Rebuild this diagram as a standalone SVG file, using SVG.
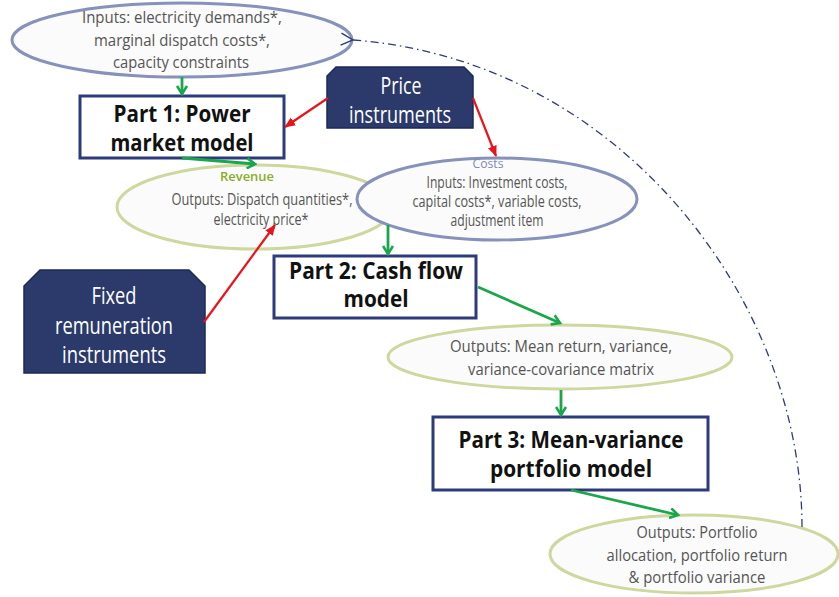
<svg xmlns="http://www.w3.org/2000/svg" width="839" height="597" viewBox="0 0 839 597">
<style>
.ell-b{fill:#fbfbfb;stroke:#8792bb;stroke-width:3}
.ell-g{fill:#fbfbfb;stroke:#cdd89f;stroke-width:3}
.box{fill:#fff;stroke:#2e3b7a;stroke-width:3}
.navy{fill:#2b3a6b;stroke:#1e2a58;stroke-width:1.5}
.t{font-family:"Open Sans","Noto Sans",sans-serif;font-size:17px;fill:#555;text-anchor:middle}
.s{font-size:15.5px}
.h{font-family:"Open Sans","Noto Sans",sans-serif;font-size:24px;font-weight:bold;fill:#111;text-anchor:middle}
.w{font-family:"Open Sans","Noto Sans",sans-serif;font-size:24px;fill:#fff;text-anchor:middle}
.g{stroke:#1aa64a;stroke-width:2.8;fill:none}
.r{stroke:#e8141b;stroke-width:2.2;fill:none}
</style>
<defs>
<marker id="ag" markerUnits="userSpaceOnUse" viewBox="0 0 12 12" refX="10" refY="6" markerWidth="12" markerHeight="12" orient="auto">
<path d="M2,1 L10,6 L2,11" fill="none" stroke="#1aa64a" stroke-width="2.6"/>
</marker>
<marker id="ar" markerUnits="userSpaceOnUse" viewBox="0 0 12 12" refX="11" refY="6" markerWidth="11" markerHeight="11" orient="auto">
<path d="M0,1 L12,6 L0,11 Z" fill="#e8141b"/>
</marker>
<marker id="ad" markerUnits="userSpaceOnUse" viewBox="0 0 14 14" refX="1" refY="7" markerWidth="14" markerHeight="14" orient="auto-start-reverse">
<path d="M13,1 L1,7 L13,13" fill="none" stroke="#2e3b7a" stroke-width="1.4"/>
</marker>
</defs>

<g id="revenue">
<ellipse class="ell-g" cx="255" cy="207" rx="138" ry="42"/>
<text x="247" y="181" font-family="Open Sans,sans-serif" font-size="13" font-weight="600" fill="#8aac2a" text-anchor="middle" textLength="54" lengthAdjust="spacingAndGlyphs">Revenue</text>
<text class="t s" x="262" y="205" textLength="181" lengthAdjust="spacingAndGlyphs">Outputs: Dispatch quantities*,</text>
<text class="t s" x="261" y="225" textLength="95" lengthAdjust="spacingAndGlyphs">electricity price*</text>
</g>

<g id="costs">
<ellipse class="ell-b" cx="497" cy="199" rx="140" ry="41"/>
<text x="488" y="168" font-family="Open Sans,sans-serif" font-size="12.5" fill="#7f8ab5" text-anchor="middle" textLength="31" lengthAdjust="spacingAndGlyphs">Costs</text>
<text class="t s" x="497" y="188" textLength="141" lengthAdjust="spacingAndGlyphs">Inputs: Investment costs,</text>
<text class="t s" x="497" y="207" textLength="169" lengthAdjust="spacingAndGlyphs">capital costs*, variable costs,</text>
<text class="t s" x="497" y="226" textLength="93" lengthAdjust="spacingAndGlyphs">adjustment item</text>
</g>

<g id="inputs">
<ellipse class="ell-b" cx="182" cy="40" rx="170" ry="37"/>
<text class="t" x="182" y="23" textLength="200" lengthAdjust="spacingAndGlyphs">Inputs: electricity demands*,</text>
<text class="t" x="182" y="46" textLength="176" lengthAdjust="spacingAndGlyphs">marginal dispatch costs*,</text>
<text class="t" x="181" y="68" textLength="136" lengthAdjust="spacingAndGlyphs">capacity constraints</text>
</g>

<g id="part1">
<rect class="box" x="80" y="96" width="204" height="62"/>
<text class="h" x="182" y="122" textLength="137" lengthAdjust="spacingAndGlyphs">Part 1: Power</text>
<text class="h" x="182" y="151" textLength="143" lengthAdjust="spacingAndGlyphs">market model</text>
</g>

<g id="price">
<path class="navy" d="M336,67 L464,67 L473,76 L473,128 L327,128 L327,76 Z"/>
<text class="w" x="401" y="94" textLength="41" lengthAdjust="spacingAndGlyphs">Price</text>
<text class="w" x="400" y="123" textLength="102" lengthAdjust="spacingAndGlyphs">instruments</text>
</g>

<g id="fixed">
<path class="navy" d="M40,270 L189,270 L205,286 L205,373 L24,373 L24,286 Z"/>
<text class="w" x="114" y="304" textLength="45" lengthAdjust="spacingAndGlyphs">Fixed</text>
<text class="w" x="114" y="334" textLength="118" lengthAdjust="spacingAndGlyphs">remuneration</text>
<text class="w" x="114" y="363" textLength="104" lengthAdjust="spacingAndGlyphs">instruments</text>
</g>

<g id="part2">
<rect class="box" x="274" y="256" width="202" height="62"/>
<text class="h" x="376" y="279" textLength="174" lengthAdjust="spacingAndGlyphs">Part 2: Cash flow</text>
<text class="h" x="376" y="307" textLength="65" lengthAdjust="spacingAndGlyphs">model</text>
</g>

<g id="mean">
<ellipse class="ell-g" cx="560" cy="357" rx="172" ry="32"/>
<text class="t" x="561" y="352" textLength="222" lengthAdjust="spacingAndGlyphs">Outputs: Mean return, variance,</text>
<text class="t" x="561" y="375" textLength="186" lengthAdjust="spacingAndGlyphs">variance-covariance matrix</text>
</g>

<g id="part3">
<rect class="box" x="433" y="417" width="275" height="73"/>
<text class="h" x="571" y="448" textLength="225" lengthAdjust="spacingAndGlyphs">Part 3: Mean-variance</text>
<text class="h" x="571" y="477" textLength="162" lengthAdjust="spacingAndGlyphs">portfolio model</text>
</g>

<g id="portfolio">
<ellipse class="ell-g" cx="694" cy="554" rx="144" ry="39"/>
<text class="t" x="697" y="538" textLength="121" lengthAdjust="spacingAndGlyphs">Outputs: Portfolio</text>
<text class="t" x="697" y="561" textLength="181" lengthAdjust="spacingAndGlyphs">allocation, portfolio return</text>
<text class="t" x="697" y="583" textLength="137" lengthAdjust="spacingAndGlyphs">&amp; portfolio variance</text>
</g>

<g id="connectors">
<path class="g" d="M182,77 L182,94" marker-end="url(#ag)"/>
<path class="g" d="M182,158 L255,164" marker-end="url(#ag)"/>
<path class="g" d="M388,225 L388,254" marker-end="url(#ag)"/>
<path class="g" d="M478,287 L560,323" marker-end="url(#ag)"/>
<path class="g" d="M561,390 L561,415" marker-end="url(#ag)"/>
<path class="g" d="M571,490 L678,515" marker-end="url(#ag)"/>
<path class="r" d="M328,98 L285,127" marker-end="url(#ar)"/>
<path class="r" d="M473,98 L496,156" marker-end="url(#ar)"/>
<path class="r" d="M204,322 L275,225" marker-end="url(#ar)"/>
<path d="M802,527 C802,300 620,60 353,40" fill="none" stroke="#2e3b7a" stroke-width="1.3" stroke-dasharray="8 4 1.5 4" marker-end="url(#ad)"/>
</g>
</svg>
